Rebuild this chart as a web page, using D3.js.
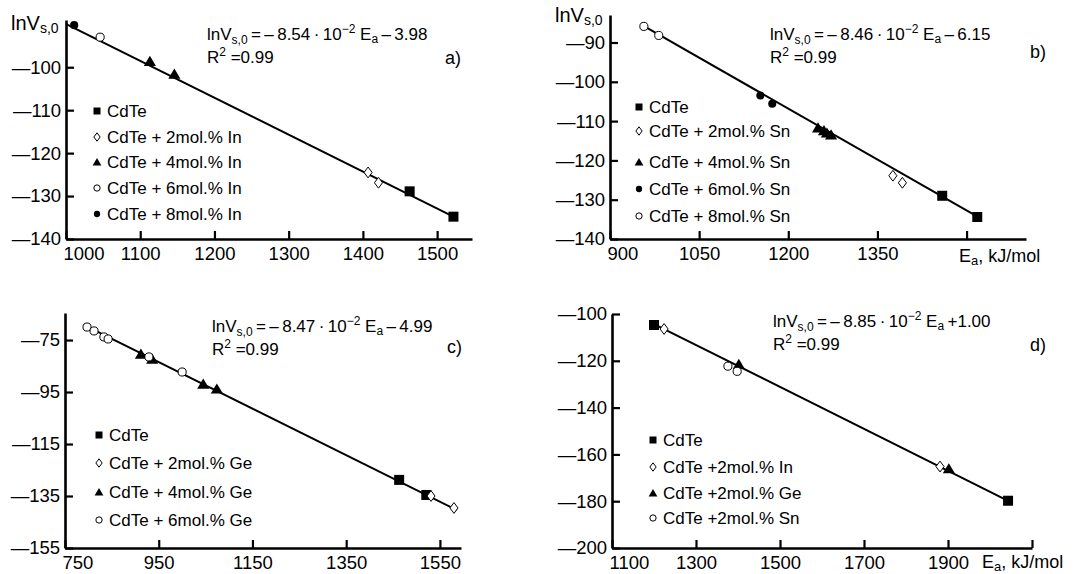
<!DOCTYPE html>
<html>
<head>
<meta charset="utf-8">
<script src="https://cdn.jsdelivr.net/npm/d3@7"></script>
<style>
  body { margin: 0; background: #fff; }
  text { font-family: "Liberation Sans", Arial, sans-serif; fill: #000; }
</style>
</head>
<body>
<svg id="chart" width="1074" height="574"></svg>
<script>
// ---- data: [Ea (kJ/mol), lnVs,0] ----

// a) CdTe + In
var aCdTe = [[1463, -128.9], [1522, -134.8]];
var aIn2 = [[1407, -124.5], [1421, -126.9]];
var aIn4 = [[1113, -98.6], [1146, -101.6]];
var aIn6 = [[1046, -93.0]];
var aIn8 = [[1011, -90.2]];
var aFit = [[1001, -90.0], [1528, -135.3]];

// b) CdTe + Sn
var bCdTe = [[1459, -129.0], [1518, -134.4]];
var bSn2 = [[1376, -123.9], [1392, -125.7]];
var bSn4 = [[1250, -111.7], [1260, -112.4], [1265, -113.0], [1272, -113.5]];
var bSn6 = [[1153, -103.5], [1173, -105.6]];
var bSn8 = [[957, -85.9], [982, -88.2]];
var bFit = [[952, -85.4], [1525, -134.9]];

// c) CdTe + Ge
var cCdTe = [[1463, -128.8], [1521, -134.6]];
var cGe2 = [[1531, -135.0], [1580, -139.6]];
var cGe4 = [[912, -80.4], [936, -82.3], [1045, -91.9], [1074, -93.8]];
var cGe6 = [[797, -70.0], [812, -71.5], [833, -73.8], [842, -74.6], [929, -81.5], [1000, -87.3]];
var cFit = [[790, -69.2], [1586, -140.4]];

// d) 2 mol.% of each dopant
var dCdTe = [[1200, -104.7], [2043, -179.8]];
var dIn = [[1224, -106.4], [1881, -165.2]];
var dGe = [[1402, -121.5], [1902, -166.1]];
var dSn = [[1376, -122.3], [1398, -124.5]];
var dFit = [[1200, -104.3], [2048, -180.3]];

// fit equations and R^2
var eqSlope = ['8.54', '8.46', '8.47', '8.85'];
var eqConst = ['\u2009\u2013\u20093.98', '\u2009\u2013\u20096.15', '\u2009\u2013\u20094.99', '\u2009+1.00'];
var eqR2 = ['0.99', '0.99', '0.99', '0.99'];
var panelTags = ['a)', 'b)', 'c)', 'd)'];

// axis ticks
var aXTicks = [1000, 1100, 1200, 1300, 1400, 1500];
var aYTicks = [-100, -110, -120, -130, -140];
var bXTicks = [900, 1050, 1200, 1350, 1500];
var bYTicks = [-90, -100, -110, -120, -130, -140];
var cXTicks = [750, 950, 1150, 1350, 1550];
var cYTicks = [-75, -95, -115, -135, -155];
var dXTicks = [1100, 1300, 1500, 1700, 1900, 2100];
var dYTicks = [-100, -120, -140, -160, -180, -200];

var aLegend = ['CdTe', 'CdTe + 2mol.% In', 'CdTe + 4mol.% In', 'CdTe + 6mol.% In', 'CdTe + 8mol.% In'];
var bLegend = ['CdTe', 'CdTe + 2mol.% Sn', 'CdTe + 4mol.% Sn', 'CdTe + 6mol.% Sn', 'CdTe + 8mol.% Sn'];
var cLegend = ['CdTe', 'CdTe + 2mol.% Ge', 'CdTe + 4mol.% Ge', 'CdTe + 6mol.% Ge'];
var dLegend = ['CdTe', 'CdTe +2mol.% In', 'CdTe +2mol.% Ge', 'CdTe +2mol.% Sn'];

var svg = d3.select('#chart');

var panels = [
    {
        xDomain: [1000, 1547], xRange: [66, 472], yDomain: [-140, -89], yRange: [239, 20],
        xTicks: aXTicks, yTicks: aYTicks, xLabelTicks: aXTicks,
        series: [['square', aCdTe], ['diamond', aIn2], ['triangle', aIn4], ['circle', aIn6], ['dot', aIn8]],
        fit: aFit, legend: aLegend, legendX: 97, legendY: [111, 137, 162, 188, 214],
        eqX: 207, eqY: 40, r2Y: 63, tagX: 445, tagY: 64, yTitle: [11, 30]
    },
    {
        xDomain: [900, 1600], xRange: [610, 1026], yDomain: [-140, -83], yRange: [239, 15],
        xTicks: bXTicks, yTicks: bYTicks, xLabelTicks: [900, 1050, 1200, 1350],
        series: [['square', bCdTe], ['diamond', bSn2], ['triangle', bSn4], ['dot', bSn6], ['circle', bSn8]],
        fit: bFit, legend: bLegend, legendX: 639, legendY: [107, 131, 162, 189, 216],
        eqX: 770, eqY: 40, r2Y: 63, tagX: 1030, tagY: 58, yTitle: [555, 22], eaLabel: [959, 262]
    },
    {
        xDomain: [750, 1595], xRange: [65, 461], yDomain: [-155, -64.6], yRange: [548, 313],
        xTicks: cXTicks, yTicks: cYTicks, xLabelTicks: cXTicks,
        series: [['square', cCdTe], ['diamond', cGe2], ['triangle', cGe4], ['circle', cGe6]],
        fit: cFit, legend: cLegend, legendX: 99, legendY: [435, 463, 492, 520],
        eqX: 212, eqY: 332, r2Y: 355, tagX: 447, tagY: 353
    },
    {
        xDomain: [1100, 2100], xRange: [612, 1032], yDomain: [-200, -100], yRange: [548, 314],
        xTicks: dXTicks, yTicks: dYTicks, xLabelTicks: [1100, 1300, 1500, 1700, 1900],
        series: [['square', dCdTe], ['diamond', dIn], ['triangle', dGe], ['circle', dSn]],
        fit: dFit, legend: dLegend, legendX: 653, legendY: [440, 467, 493, 518],
        eqX: 773, eqY: 327, r2Y: 350, tagX: 1030, tagY: 351, eaLabel: [982, 568]
    }
];

// draw one marker centred on (cx, cy); s is the rough width in px
function marker(g, type, cx, cy, s) {
    var h = s / 2;
    if (type === 'square') {
        g.append('rect').attr('x', cx - h).attr('y', cy - h)
            .attr('width', s).attr('height', s).attr('fill', '#000');
    } else if (type === 'diamond') {
        g.append('path')
            .attr('d', `M${cx},${cy - h * 1.2}L${cx + h * 0.9},${cy}L${cx},${cy + h * 1.2}L${cx - h * 0.9},${cy}Z`)
            .attr('fill', '#fff').attr('stroke', '#000').attr('stroke-width', 1);
    } else if (type === 'triangle') {
        g.append('path')
            .attr('d', `M${cx},${cy - h * 1.0}L${cx + h * 1.1},${cy + h * 0.85}L${cx - h * 1.1},${cy + h * 0.85}Z`)
            .attr('fill', '#000');
    } else if (type === 'circle') {
        g.append('circle').attr('cx', cx).attr('cy', cy).attr('r', h * 0.9)
            .attr('fill', '#fff').attr('stroke', '#000').attr('stroke-width', 1);
    } else {
        g.append('circle').attr('cx', cx).attr('cy', cy).attr('r', h * 0.9).attr('fill', '#000');
    }
}

function tickText(d) {
    return d < 0 ? '\u2014' + Math.abs(d) : String(d);
}

function drawPanel(p, i) {
    var x = d3.scaleLinear().domain(p.xDomain).range(p.xRange);
    var y = d3.scaleLinear().domain(p.yDomain).range(p.yRange);
    var g = svg.append('g').attr('class', 'panel');

    // fit line first so the markers sit on top
    g.append('path')
        .datum(p.fit)
        .attr('d', d3.line().x(d => x(d[0])).y(d => y(d[1])))
        .attr('fill', 'none').attr('stroke', '#000').attr('stroke-width', 2);

    var yAxis = d3.axisLeft(y).tickValues(p.yTicks).tickSizeInner(-8).tickSizeOuter(0)
        .tickPadding(5).tickFormat(tickText);
    var yG = g.append('g').attr('transform', `translate(${p.xRange[0]},0)`).call(yAxis);

    var xAxis = d3.axisBottom(x).tickValues(p.xTicks).tickSizeInner(-8).tickSizeOuter(0)
        .tickPadding(8).tickFormat(d => p.xLabelTicks.indexOf(d) >= 0 ? d : '');
    var xG = g.append('g').attr('transform', `translate(0,${p.yRange[0]})`).call(xAxis);

    [yG, xG].forEach(function (ax) {
        ax.select('.domain').attr('stroke-width', 2.6);
        ax.selectAll('.tick line').attr('stroke-width', 2.2);
        ax.selectAll('.tick text').attr('font-size', 18.5)
            .attr('font-family', '"Liberation Sans", Arial, sans-serif');
    });
    // first x label starts at the axis instead of being centred
    xG.selectAll('.tick text').filter(d => d === p.xTicks[0])
        .attr('text-anchor', 'start').attr('x', -3);

    // points
    p.series.forEach(function (s) {
        var size = s[0] === 'square' ? 10 : s[0] === 'triangle' ? 11 : 9;
        s[1].forEach(function (d) {
            marker(g, s[0], x(d[0]), y(d[1]), size);
        });
    });

    // legend
    p.legend.forEach(function (label, k) {
        var ly = p.legendY[k];
        var type = p.series[k][0];
        marker(g, type, p.legendX, ly, type === 'triangle' ? 8 : 7);
        g.append('text').attr('x', p.legendX + 10).attr('y', ly).attr('dy', '0.36em')
            .attr('font-size', 17).text(label);
    });

    // equation
    var eq = g.append('text').attr('x', p.eqX).attr('y', p.eqY).attr('font-size', 17);
    eq.append('tspan').text('lnV');
    eq.append('tspan').attr('font-size', 12).attr('dy', 4).text('s,0');
    eq.append('tspan').attr('dy', -4).text('\u2009=\u2009\u2013\u2009' + eqSlope[i] + '\u2009\u00b7\u200910');
    eq.append('tspan').attr('font-size', 12).attr('dy', -7).text('\u22122');
    eq.append('tspan').attr('dy', 7).text(' E');
    eq.append('tspan').attr('font-size', 12).attr('dy', 3).text('a');
    eq.append('tspan').attr('dy', -3).text(eqConst[i]);

    var r2 = g.append('text').attr('x', p.eqX).attr('y', p.r2Y).attr('font-size', 17);
    r2.append('tspan').text('R');
    r2.append('tspan').attr('font-size', 12).attr('dy', -7).text('2');
    r2.append('tspan').attr('dy', 7).text(' =' + eqR2[i]);

    g.append('text').attr('x', p.tagX).attr('y', p.tagY).attr('font-size', 18).text(panelTags[i]);

    if (p.yTitle) {
        var yt = g.append('text').attr('x', p.yTitle[0]).attr('y', p.yTitle[1]).attr('font-size', 20);
        yt.append('tspan').text('lnV');
        yt.append('tspan').attr('font-size', 14).attr('dy', 3).text('s,0');
    }
    if (p.eaLabel) {
        var ea = g.append('text').attr('x', p.eaLabel[0]).attr('y', p.eaLabel[1]).attr('font-size', 18);
        ea.append('tspan').text('E');
        ea.append('tspan').attr('font-size', 13).attr('dy', 3).text('a');
        ea.append('tspan').attr('dy', -3).text(', kJ/mol');
    }
}

panels.forEach(drawPanel);
</script>
</body>
</html>
